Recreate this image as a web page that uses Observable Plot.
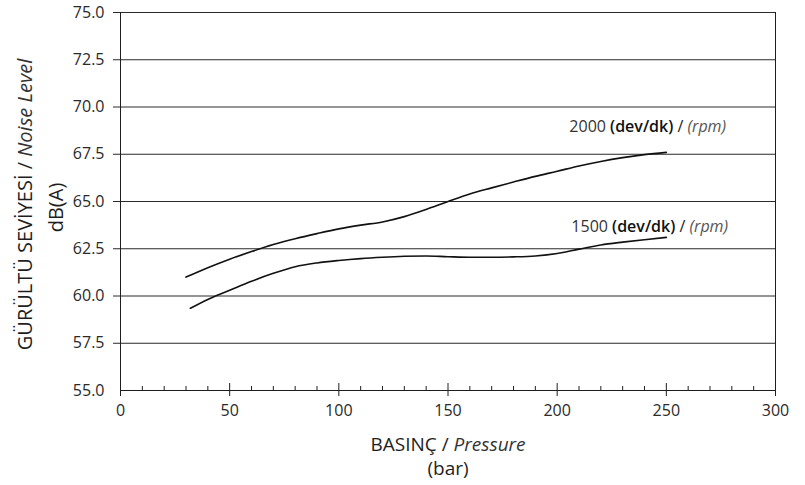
<!DOCTYPE html>
<html>
<head>
<meta charset="utf-8">
<script src="https://cdn.jsdelivr.net/npm/d3@7"></script>
<script src="https://cdn.jsdelivr.net/npm/@observablehq/plot@0.6"></script>
<style>
  html, body { margin: 0; padding: 0; background: #fff; }
  #chart svg { display: block; }
</style>
</head>
<body>
<div id="chart"></div>
<script>
// ---- data ----
const pressure2000 = [30, 40, 50, 60, 70, 80, 90, 100, 110, 120, 130, 140, 150, 160, 170, 180, 190, 200, 210, 220, 230, 240, 250];
const noise2000    = [61.0, 61.5, 61.95, 62.35, 62.72, 63.03, 63.3, 63.55, 63.75, 63.92, 64.2, 64.58, 65.0, 65.4, 65.72, 66.03, 66.33, 66.6, 66.88, 67.12, 67.32, 67.48, 67.6];
const pressure1500 = [32, 40, 50, 60, 70, 80, 90, 100, 110, 120, 130, 140, 150, 160, 170, 180, 190, 200, 210, 220, 230, 240, 250];
const noise1500    = [59.35, 59.82, 60.3, 60.78, 61.2, 61.55, 61.75, 61.88, 61.98, 62.05, 62.1, 62.12, 62.08, 62.05, 62.05, 62.07, 62.12, 62.25, 62.48, 62.7, 62.85, 62.98, 63.1];

const seriesSpeeds = ["2000", "1500"];
const speedUnit = "(dev/dk)";
const speedUnitEn = "(rpm)";

const xMajorTicks = [0, 50, 100, 150, 200, 250, 300];
const xMinorTicks = [10, 20, 30, 40, 60, 70, 80, 90, 110, 120, 130, 140, 160, 170, 180, 190, 210, 220, 230, 240, 260, 270, 280, 290];
const yTicks = [55, 57.5, 60, 62.5, 65, 67.5, 70, 72.5, 75];
const yTickLabels = ["55.0", "57.5", "60.0", "62.5", "65.0", "67.5", "70.0", "72.5", "75.0"];

const xTitleTr = "BASINÇ", xTitleEn = "Pressure", xUnit = "(bar)";
const yTitleTr = "GÜRÜLTÜ SEVİYESİ", yTitleEn = "Noise Level", yUnit = "dB(A)";

// ---- build tables ----
const curve2000 = pressure2000.map((p, i) => ({series: seriesSpeeds[0], pressure: p, noise: noise2000[i]}));
const curve1500 = pressure1500.map((p, i) => ({series: seriesSpeeds[1], pressure: p, noise: noise1500[i]}));
const curves = curve2000.concat(curve1500);
const seriesLabel = s => `${s} ${speedUnit} / ${speedUnitEn}`;
const end2000 = [{...curve2000[curve2000.length - 1], label: seriesLabel(seriesSpeeds[0])}];
const end1500 = [{...curve1500[curve1500.length - 1], label: seriesLabel(seriesSpeeds[1])}];

const xTitle = `${xTitleTr} / ${xTitleEn}`;
const yTitle = `${yTitleTr} / ${yTitleEn}`;

const ink = "#1e1e1e";

const chart = Plot.plot({
  width: 805,
  height: 485,
  marginLeft: 120,
  marginRight: 30,
  marginTop: 12,
  marginBottom: 95,
  x: {domain: [0, 300]},
  y: {domain: [55, 75]},
  style: {fontFamily: "'Open Sans', sans-serif", fontSize: "16px", color: ink, background: "#fff", overflow: "visible"},
  marks: [
    // horizontal grid lines (extend a little left of the axis)
    Plot.ruleY(yTicks.filter(d => d > 55), {x1: 0, x2: 300, insetLeft: -7, stroke: "#2a2a2a", strokeWidth: 1}),
    // x axis baseline
    Plot.ruleY([55], {x1: 0, x2: 300, stroke: ink, strokeWidth: 1}),
    // left axis and right border
    Plot.ruleX([0], {y1: 55, y2: 75, insetTop: 3, stroke: ink, strokeWidth: 1}),
    Plot.ruleX([300], {y1: 55, y2: 75, stroke: ink, strokeWidth: 1}),
    // x ticks
    Plot.ruleX(xMajorTicks, {y1: 55, y2: 55, insetTop: -7, insetBottom: -6, stroke: ink, strokeWidth: 1}),
    Plot.ruleX(xMinorTicks, {y1: 55, y2: 55, insetTop: -4, stroke: ink, strokeWidth: 1}),
    // tick labels
    Plot.axisY({ticks: yTicks, tickSize: 0, tickPadding: 16, tickFormat: d => yTickLabels[yTicks.indexOf(d)], label: null, fontSize: 16, fill: "#2a2a2a"}),
    Plot.axisX({ticks: xMajorTicks, tickSize: 0, tickPadding: 14, label: null, fontSize: 16, fill: "#2a2a2a"}),
    // curves
    Plot.line(curves, {x: "pressure", y: "noise", z: "series", curve: "monotone-x", stroke: "#111", strokeWidth: 1.6}),
    // series labels
    Plot.text(end2000, {x: "pressure", y: "noise", text: "label", textAnchor: "start", dx: -97, dy: -25, fontSize: 16}),
    Plot.text(end1500, {x: "pressure", y: "noise", text: "label", textAnchor: "start", dx: -95, dy: -11, fontSize: 16}),
    // axis titles
    Plot.text([xTitle], {text: d => d, frameAnchor: "bottom", textAnchor: "middle", lineAnchor: "middle", dy: 54, fontSize: 19, fill: ink}),
    Plot.text([xUnit], {text: d => d, frameAnchor: "bottom", textAnchor: "middle", lineAnchor: "middle", dy: 78, fontSize: 19, fill: ink}),
    Plot.text([yTitle], {text: d => d, frameAnchor: "left", textAnchor: "middle", lineAnchor: "middle", rotate: -90, dx: -95, dy: 3, fontSize: 20, fill: ink}),
    Plot.text([yUnit], {text: d => d, frameAnchor: "left", textAnchor: "middle", lineAnchor: "middle", rotate: -90, dx: -64, dy: 6, fontSize: 20, fill: ink})
  ]
});

// ---- rich text: italic English parts, bold units ----
function rich(el, parts) {
  el.textContent = "";
  for (const p of parts) {
    const t = document.createElementNS("http://www.w3.org/2000/svg", "tspan");
    t.textContent = p.t;
    if (p.italic) t.setAttribute("font-style", "italic");
    if (p.weight) t.setAttribute("font-weight", p.weight);
    if (p.fill) t.setAttribute("fill", p.fill);
    el.appendChild(t);
  }
}
chart.querySelectorAll("text").forEach(el => {
  const s = el.textContent;
  if (s === xTitle) {
    rich(el, [{t: xTitleTr + " / "}, {t: xTitleEn, italic: true, fill: "#333"}]);
  } else if (s === yTitle) {
    rich(el, [{t: yTitleTr + " / "}, {t: yTitleEn, italic: true, fill: "#333"}]);
  } else if (seriesSpeeds.some(sp => s === seriesLabel(sp))) {
    const sp = s.split(" ")[0];
    rich(el, [
      {t: sp + " ", fill: "#333"},
      {t: speedUnit, weight: 600, fill: "#111"},
      {t: " / ", fill: "#222"},
      {t: speedUnitEn, italic: true, fill: "#555"}
    ]);
  }
});

document.getElementById("chart").appendChild(chart);
</script>
</body>
</html>
